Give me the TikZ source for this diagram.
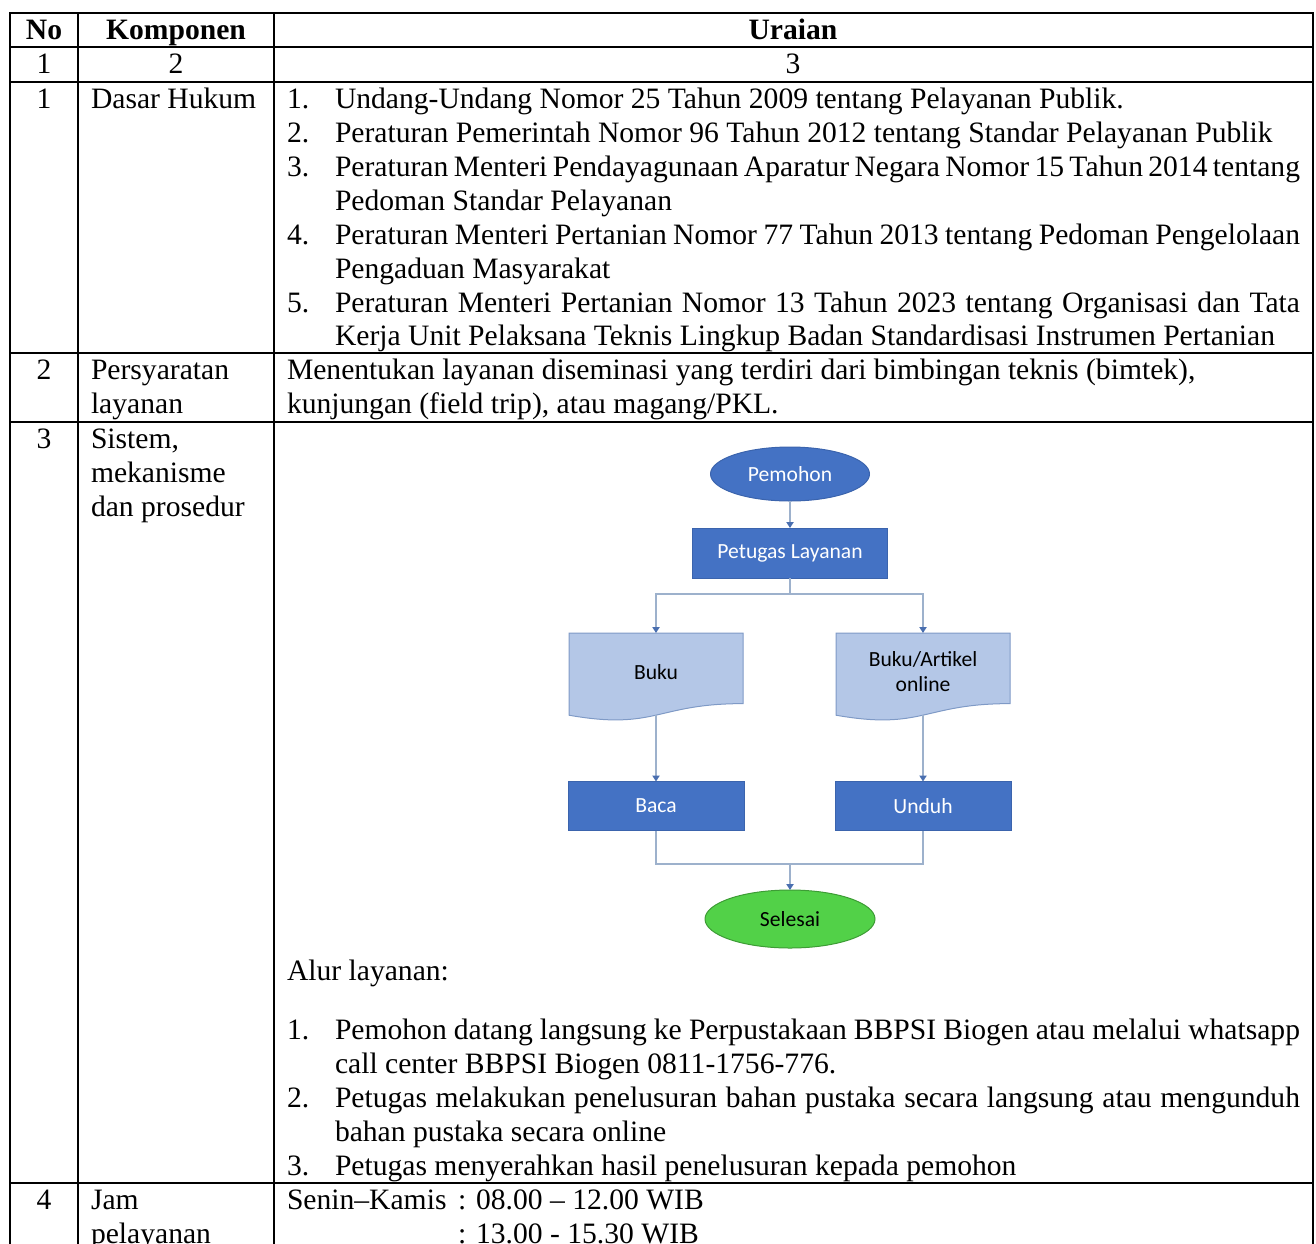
\documentclass[tikz,border=0pt]{standalone}
\usepackage{fontspec}
\setmainfont{Liberation Serif}
\newfontfamily\calibri{Carlito}
\usetikzlibrary{shapes.geometric,arrows.meta}
\definecolor{boxblue}{HTML}{4472C4}
\definecolor{boxedge}{HTML}{3B64AD}
\definecolor{docfill}{HTML}{B4C7E7}
\definecolor{docedge}{HTML}{7F9AC6}
\definecolor{conn}{HTML}{9DB1CC}
\definecolor{tipc}{HTML}{4A6FB0}
\definecolor{greenfill}{HTML}{52D148}
\definecolor{greenedge}{HTML}{3D9C35}
\newcommand\flowfont{\calibri\fontsize{10.8}{13}\selectfont}
\newcommand\jline[1]{\makebox[482.5pt][s]{#1}}
\pgfdeclarelayer{bg}
\pgfsetlayers{bg,main}
\begin{document}
\begin{tikzpicture}[x=0.5pt,y=-0.5pt,
  every node/.style={inner sep=0pt, outer sep=0pt},
  tx/.style={anchor=base west, font=\fontsize{14.8}{17}\selectfont},
  tc/.style={anchor=base, font=\fontsize{14.8}{17}\selectfont},
  th/.style={anchor=base, font=\fontsize{14.8}{17}\selectfont\bfseries},
  grid/.style={line width=1.15pt},
  proc/.style={rectangle, draw=boxedge, line width=0.5pt, fill=boxblue, text=white, font=\flowfont},
  term/.style={ellipse, draw=boxedge, line width=0.5pt, fill=boxblue, text=white, font=\flowfont},
  docnode/.style={rectangle, minimum width=87pt, minimum height=41pt, font=\flowfont, text=black, align=center},
  docshape/.style={draw=docedge, fill=docfill, line width=0.5pt},
  flow/.style={draw=conn, line width=0.7pt},
  arr/.style={flow, -{Triangle[length=3pt,width=3.6pt,color=tipc]}},
]
\useasboundingbox (0,0) rectangle (1316,1243);
% table grid
\draw[grid] (10,13) rectangle (1313,1300);
\foreach \yy in {47,82,353,422,1183} \draw[grid] (10,\yy) -- (1313,\yy);
\draw[grid] (78,13) -- (78,1300);
\draw[grid] (274,13) -- (274,1300);

% header
\node[th] (hNo) at (44,39) {No};
\node[th] (hKo) at (176,39) {Komponen};
\node[th] (hUr) at (793,39) {Uraian};
\node[tc] (c1) at (44,73) {1};
\node[tc] (c2) at (176,73) {2};
\node[tc] (c3) at (793,73) {3};

% row 1
\node[tc] (r1n) at (44,108) {1};
\node[tx] (r1k) at (91,108) {Dasar Hukum};
\node[tx] (a1n) at (287,108) {1.};
\node[tx] (a1) at (335,108) {Undang-Undang Nomor 25 Tahun 2009 tentang Pelayanan Publik.};
\node[tx] (a2n) at (287,142) {2.};
\node[tx] (a2) at (335,142) {Peraturan Pemerintah Nomor 96 Tahun 2012 tentang Standar Pelayanan Publik};
\node[tx] (a3n) at (287,176) {3.};
\node[tx] (a3) at (335,176) {\jline{Peraturan Menteri Pendayagunaan Aparatur Negara Nomor 15 Tahun 2014 tentang}};
\node[tx] (a3b) at (335,210) {Pedoman Standar Pelayanan};
\node[tx] (a4n) at (287,244) {4.};
\node[tx] (a4) at (335,244) {\jline{Peraturan Menteri Pertanian Nomor 77 Tahun 2013 tentang Pedoman Pengelolaan}};
\node[tx] (a4b) at (335,278) {Pengaduan Masyarakat};
\node[tx] (a5n) at (287,312) {5.};
\node[tx] (a5) at (335,312) {\jline{Peraturan Menteri Pertanian Nomor 13 Tahun 2023 tentang Organisasi dan Tata}};
\node[tx] (a5b) at (335,345) {Kerja Unit Pelaksana Teknis Lingkup Badan Standardisasi Instrumen Pertanian};

% row 2
\node[tc] (r2n) at (44,379) {2};
\node[tx] (r2k) at (91,379) {Persyaratan};
\node[tx] (r2k2) at (91,413) {layanan};
\node[tx] (r2a) at (287,379) {Menentukan layanan diseminasi yang terdiri dari bimbingan teknis (bimtek),};
\node[tx] (r2b) at (287,413) {kunjungan (field trip), atau magang/PKL.};

% row 3
\node[tc] (r3n) at (44,448) {3};
\node[tx] (r3k) at (91,448) {Sistem,};
\node[tx] (r3k2) at (91,482) {mekanisme};
\node[tx] (r3k3) at (91,516) {dan prosedur};

% flowchart
\node[term, minimum width=79.5pt, minimum height=27pt] (pem) at (790,474) {Pemohon};
\node[proc, minimum width=97.5pt, minimum height=25pt] (pet) at (790,553) {Petugas Layanan};
\node[docnode] (buku) at (656,674) {\raisebox{2.5pt}{Buku}};
\node[docnode] (art) at (923,674) {\raisebox{2.5pt}{\begin{tabular}{@{}c@{}}Buku/Artikel\\[-0.5pt] online\end{tabular}}};
\node[proc, minimum width=88pt, minimum height=24.5pt] (baca) at (656,806) {Baca};
\node[proc, minimum width=88pt, minimum height=24.5pt] (unduh) at (923,806) {Unduh};
\node[ellipse, draw=greenedge, line width=0.5pt, fill=greenfill, text=black, font=\flowfont,
      minimum width=85pt, minimum height=29pt] (sel) at (790,919) {Selesai};
\begin{pgfonlayer}{bg}
\draw[docshape] (buku.north west) -- (buku.north east) -- ++(0,70.6)
   .. controls +(-87,0) and +(87,15.3) .. ++(-174,11.6) -- cycle;
\draw[docshape] (art.north west) -- (art.north east) -- ++(0,70.6)
   .. controls +(-87,0) and +(87,15.3) .. ++(-174,11.6) -- cycle;
\end{pgfonlayer}
\coordinate (split) at (790,594);
\coordinate (join) at (790,864);
\draw[arr] (pem) -- (pet);
\draw[flow] (pet.south) -- (split);
\draw[arr] (split) -| (buku.north);
\draw[arr] (split) -| (art.north);
\draw[arr] (buku.south) -- (baca.north);
\draw[arr] (art.south) -- (unduh.north);
\draw[flow] (baca.south) |- (join) -| (unduh.south);
\draw[arr] (join) -- (sel);

% alur
\node[tx] (alur) at (287,980) {Alur layanan:};
\node[tx] (b1n) at (287,1039) {1.};
\node[tx] (b1) at (335,1039) {\jline{Pemohon datang langsung ke Perpustakaan BBPSI Biogen atau melalui whatsapp}};
\node[tx] (b1b) at (335,1073) {call center BBPSI Biogen 0811-1756-776.};
\node[tx] (b2n) at (287,1107) {2.};
\node[tx] (b2) at (335,1107) {\jline{Petugas melakukan penelusuran bahan pustaka secara langsung atau mengunduh}};
\node[tx] (b2b) at (335,1141) {bahan pustaka secara online};
\node[tx] (b3n) at (287,1175) {3.};
\node[tx] (b3) at (335,1175) {Petugas menyerahkan hasil penelusuran kepada pemohon};

% row 4
\node[tc] (r4n) at (44,1209) {4};
\node[tx] (r4k) at (91,1209) {Jam};
\node[tx] (r4k2) at (91,1243) {pelayanan};
\node[tx] (j1) at (287,1209) {Senin–Kamis};
\node[tx] (j2) at (458,1209) {: 08.00 – 12.00 WIB};
\node[tx] (j3) at (458,1243) {: 13.00 - 15.30 WIB};
\end{tikzpicture}
\end{document}
